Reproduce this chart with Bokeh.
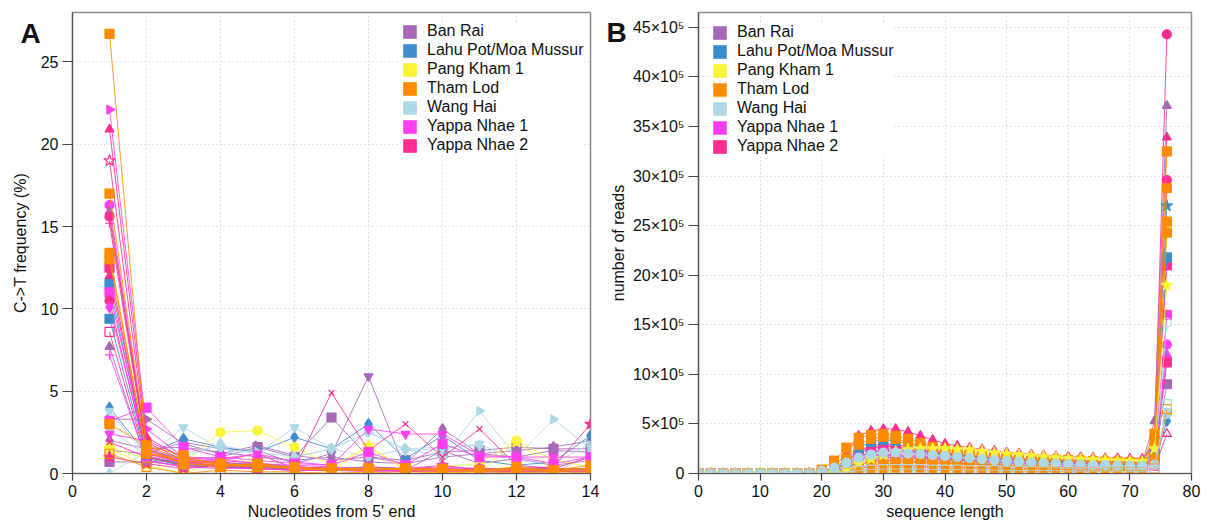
import math

from bokeh.embed import file_html
from bokeh.layouts import row
from bokeh.models import (CustomJSTickFormatter, FixedTicker, Label, Legend,
                          LegendItem, Range1d)
from bokeh.plotting import figure
from bokeh.resources import INLINE

FONT = "Liberation Sans"

# ---------------------------------------------------------------------------
# Populations and their colours
# ---------------------------------------------------------------------------
populations = ["Ban Rai", "Lahu Pot/Moa Mussur", "Pang Kham 1", "Tham Lod",
               "Wang Hai", "Yappa Nhae 1", "Yappa Nhae 2"]
pop_colors = ["#a868b8", "#3e8ccb", "#f9f33a", "#ff8c00",
              "#add8e6", "#ff3ef2", "#ff2d8f"]
COLOR = dict(zip(populations, pop_colors))

# ---------------------------------------------------------------------------
# Panel A: C->T frequency (%) at the first 14 positions from the 5' end
# ---------------------------------------------------------------------------
nt_pos = [1, 2, 3, 4, 5, 6, 7, 8, 9, 10, 11, 12, 13, 14]

ct_yn1_a = [22.1, 2.7, 1.0, 0.8, 0.6, 0.4, 0.3, 0.3, 0.2, 0.3, 0.2, 0.2, 0.2, 0.3]
ct_yn2_a = [20.9, 2.2, 0.9, 0.7, 0.5, 0.4, 0.3, 0.3, 0.2, 0.2, 0.3, 0.2, 0.2, 0.2]
ct_yn2_b = [19.0, 1.9, 0.8, 0.6, 0.5, 0.3, 0.3, 0.2, 0.2, 0.2, 0.2, 0.1, 0.2, 0.2]
ct_yn1_b = [16.3, 1.6, 0.7, 0.9, 0.6, 0.5, 0.4, 0.3, 0.3, 0.4, 0.3, 0.3, 0.2, 0.3]
ct_br_a = [15.9, 1.4, 0.9, 0.6, 0.6, 0.4, 0.3, 0.4, 0.3, 0.3, 0.2, 0.3, 0.3, 0.3]
ct_yn2_c = [15.6, 1.5, 0.6, 0.5, 0.4, 0.3, 0.2, 0.3, 0.2, 0.3, 0.2, 0.2, 0.2, 0.2]
ct_yn2_d = [15.2, 1.3, 0.7, 0.5, 0.4, 0.4, 0.3, 0.2, 0.2, 0.2, 0.3, 0.2, 0.2, 0.2]
ct_yn2_e = [12.5, 1.1, 0.5, 0.5, 0.3, 0.3, 0.2, 0.3, 0.2, 0.2, 0.2, 0.2, 0.2, 0.1]
ct_yn2_f = [12.0, 1.2, 0.7, 0.4, 0.4, 0.3, 0.3, 0.2, 0.3, 0.2, 0.2, 0.2, 0.3, 0.2]
ct_lp_a = [11.5, 1.0, 0.6, 0.5, 0.5, 0.2, 0.3, 0.2, 0.2, 0.2, 0.2, 0.1, 0.2, 0.2]
ct_yn1_c = [11.0, 1.4, 0.8, 0.6, 0.4, 0.4, 0.2, 0.3, 0.2, 0.3, 0.2, 0.2, 0.2, 0.2]
ct_yn2_g = [10.5, 1.0, 0.5, 0.4, 0.3, 0.2, 0.2, 0.2, 0.1, 0.2, 0.2, 0.1, 0.1, 0.2]
ct_yn1_d = [10.1, 1.2, 0.6, 0.5, 0.4, 0.3, 0.3, 0.2, 0.2, 0.3, 0.2, 0.2, 0.2, 0.1]
ct_lp_b = [9.4, 0.9, 0.5, 0.4, 0.4, 0.3, 0.2, 0.2, 0.2, 0.2, 0.1, 0.2, 0.1, 0.2]
ct_yn2_h = [8.6, 0.8, 0.4, 0.4, 0.3, 0.2, 0.2, 0.2, 0.2, 0.1, 0.2, 0.1, 0.2, 0.1]
ct_br_b = [7.7, 0.7, 0.5, 0.4, 0.3, 0.3, 0.2, 0.2, 0.2, 0.2, 0.2, 0.2, 0.1, 0.2]
ct_yn1_e = [7.2, 0.8, 0.4, 0.3, 0.3, 0.2, 0.2, 0.1, 0.2, 0.2, 0.1, 0.1, 0.2, 0.1]
ct_lp_c = [4.0, 1.2, 2.1, 1.6, 1.3, 2.2, 1.5, 3.0, 0.9, 2.3, 0.8, 0.5, 0.7, 2.3]
ct_wh_a = [3.8, 1.0, 2.8, 1.5, 1.2, 2.8, 1.5, 2.5, 1.4, 1.5, 1.8, 0.8, 0.6, 1.8]
ct_br_c = [3.3, 3.3, 1.8, 1.2, 1.7, 1.1, 0.8, 1.0, 0.6, 1.0, 1.2, 1.0, 1.4, 1.3]
ct_br_d = [0.7, 0.7, 0.9, 1.0, 1.6, 1.0, 3.4, 1.0, 0.8, 1.3, 1.4, 1.6, 1.5, 1.5]
ct_yn1_f = [3.2, 4.0, 1.6, 1.0, 0.8, 0.6, 0.5, 1.3, 0.5, 1.8, 1.0, 1.0, 0.6, 1.0]
ct_wh_b = [2.7, 1.1, 1.2, 1.7, 1.3, 1.0, 1.5, 2.5, 1.5, 1.0, 3.8, 1.0, 3.3, 1.5]
ct_br_e = [2.0, 1.5, 1.6, 1.3, 1.0, 0.8, 1.0, 0.7, 0.6, 2.7, 1.2, 1.4, 1.6, 2.0]
ct_pk_a = [1.6, 0.9, 0.6, 2.5, 2.6, 1.6, 0.5, 1.6, 0.3, 0.4, 0.6, 2.0, 0.8, 0.4]
ct_br_f = [1.4, 1.2, 1.9, 1.5, 1.4, 0.6, 1.2, 5.9, 0.2, 1.4, 0.6, 0.9, 0.5, 0.8]
ct_wh_c = [0.0, 1.3, 1.0, 1.8, 0.1, 1.0, 1.5, 1.0, 1.5, 1.6, 1.7, 0.5, 0.0, 1.2]
ct_yn2_i = [1.9, 1.0, 0.6, 0.8, 1.2, 0.3, 4.9, 1.4, 3.0, 1.0, 2.7, 0.5, 0.3, 1.0]
ct_yn1_g = [2.4, 2.0, 1.0, 0.9, 1.2, 0.7, 0.5, 2.7, 2.4, 2.4, 1.1, 1.0, 1.0, 1.0]
ct_pk_b = [1.5, 0.5, 0.0, 0.8, 0.7, 0.3, 0.1, 1.7, 0.2, 0.0, 0.1, 1.9, 0.3, 0.1]
ct_yn2_j = [1.0, 0.6, 0.3, 0.5, 0.4, 0.3, 0.2, 0.4, 0.3, 0.5, 0.2, 0.3, 0.4, 3.0]
ct_tl_a = [1.2, 0.4, 0.0, 0.2, 0.1, 0.1, 0.0, 0.1, 0.0, 0.1, 0.0, 0.1, 0.0, 0.1]
ct_tl_b = [26.7, 1.5, 0.6, 0.5, 0.4, 0.3, 0.2, 0.2, 0.3, 0.2, 0.2, 0.3, 0.2, 0.3]
ct_tl_c = [17.0, 1.7, 0.8, 0.5, 0.5, 0.3, 0.3, 0.3, 0.2, 0.2, 0.2, 0.2, 0.1, 0.2]
ct_tl_d = [13.4, 1.2, 0.9, 0.6, 0.5, 0.4, 0.3, 0.3, 0.3, 0.3, 0.2, 0.3, 0.2, 0.3]
ct_tl_e = [13.0, 1.3, 0.6, 0.4, 0.6, 0.3, 0.2, 0.2, 0.3, 0.2, 0.1, 0.2, 0.2, 0.2]
ct_tl_f = [3.0, 1.7, 1.1, 0.5, 0.6, 0.3, 0.2, 0.3, 0.3, 0.2, 0.2, 0.4, 0.2, 0.5]

# library -> (population, marker, filled, values); drawn in this order
ct_libraries = [
    ("Ban Rai", "inverted_triangle", True, ct_br_f),
    ("Ban Rai", "square", True, ct_br_d),
    ("Ban Rai", "diamond", True, ct_br_e),
    ("Ban Rai", "rtriangle", True, ct_br_c),
    ("Lahu Pot/Moa Mussur", "diamond", True, ct_lp_c),
    ("Wang Hai", "inverted_triangle", True, ct_wh_a),
    ("Wang Hai", "rtriangle", True, ct_wh_b),
    ("Wang Hai", "diamond", True, ct_wh_c),
    ("Pang Kham 1", "circle", True, ct_pk_a),
    ("Pang Kham 1", "star", True, ct_pk_b),
    ("Yappa Nhae 2", "x", False, ct_yn2_i),
    ("Yappa Nhae 1", "inverted_triangle", True, ct_yn1_g),
    ("Yappa Nhae 2", "star", True, ct_yn2_j),
    ("Yappa Nhae 1", "square", True, ct_yn1_f),
    ("Yappa Nhae 1", "rtriangle", True, ct_yn1_a),
    ("Yappa Nhae 2", "triangle", True, ct_yn2_a),
    ("Yappa Nhae 2", "star", False, ct_yn2_b),
    ("Yappa Nhae 1", "circle", True, ct_yn1_b),
    ("Ban Rai", "triangle", True, ct_br_a),
    ("Yappa Nhae 2", "circle", True, ct_yn2_c),
    ("Yappa Nhae 2", "cross", False, ct_yn2_d),
    ("Yappa Nhae 2", "square", True, ct_yn2_e),
    ("Yappa Nhae 2", "triangle", True, ct_yn2_f),
    ("Lahu Pot/Moa Mussur", "square", True, ct_lp_a),
    ("Yappa Nhae 1", "square", True, ct_yn1_c),
    ("Yappa Nhae 2", "circle", True, ct_yn2_g),
    ("Yappa Nhae 1", "diamond", True, ct_yn1_d),
    ("Lahu Pot/Moa Mussur", "square", True, ct_lp_b),
    ("Yappa Nhae 2", "square", False, ct_yn2_h),
    ("Ban Rai", "triangle", True, ct_br_b),
    ("Yappa Nhae 1", "cross", False, ct_yn1_e),
    ("Tham Lod", "square", False, ct_tl_a),
    ("Tham Lod", "square", True, ct_tl_b),
    ("Tham Lod", "square", True, ct_tl_c),
    ("Tham Lod", "square", True, ct_tl_d),
    ("Tham Lod", "square", True, ct_tl_e),
    ("Tham Lod", "square", True, ct_tl_f),
]

# ---------------------------------------------------------------------------
# Panel B: number of reads (x10^5) per sequence length
# ---------------------------------------------------------------------------
read_len = [0, 2, 4, 6, 8, 10, 12, 14, 16, 18, 20, 22, 24, 26, 28, 30, 32, 34, 36,
            38, 40, 42, 44, 46, 48, 50, 52, 54, 56, 58, 60, 62, 64, 66, 68, 70,
            72, 74, 76]

rl_yn2_a = [0, 0, 0, 0, 0, 0, 0, 0, 0, 0.05, 0.2, 0.7, 2.0, 3.8, 4.3, 4.5, 4.5, 4.2,
            3.8, 3.4, 3.0, 2.8, 2.6, 2.45, 2.3, 2.15, 2.05, 1.95, 1.85, 1.75, 1.7,
            1.65, 1.6, 1.55, 1.55, 1.5, 1.5, 2.8, 33.9]
rl_tl_a = [0, 0, 0, 0, 0, 0, 0, 0, 0, 0.05, 0.4, 1.3, 2.6, 3.6, 3.9, 4.0, 3.8, 3.5,
           3.1, 2.7, 2.4, 2.2, 2.0, 1.9, 1.8, 1.7, 1.6, 1.5, 1.45, 1.4, 1.35, 1.3,
           1.25, 1.2, 1.2, 1.15, 1.1, 4.0, 32.5]
rl_tl_b = [0, 0, 0, 0, 0, 0, 0, 0, 0, 0, 0.1, 0.5, 1.5, 2.9, 3.5, 3.7, 3.5, 3.2,
           2.8, 2.5, 2.2, 2.0, 1.9, 1.7, 1.6, 1.5, 1.4, 1.35, 1.3, 1.25, 1.2, 1.15,
           1.1, 1.05, 1.0, 1.0, 0.95, 3.2, 28.8]
rl_lp_a = [0, 0, 0, 0, 0, 0, 0, 0, 0, 0, 0.1, 0.4, 1.3, 2.6, 3.2, 3.4, 3.3, 3.0,
           2.7, 2.4, 2.1, 1.9, 1.8, 1.65, 1.55, 1.45, 1.4, 1.3, 1.25, 1.2, 1.15,
           1.1, 1.05, 1.0, 1.0, 0.95, 0.9, 2.3, 21.8]
rl_yn2_b = [0, 0, 0, 0, 0, 0, 0, 0, 0, 0, 0.05, 0.3, 1.1, 2.3, 2.8, 3.0, 2.9, 2.7,
            2.4, 2.2, 2.0, 1.85, 1.75, 1.65, 1.55, 1.45, 1.35, 1.3, 1.25, 1.2,
            1.15, 1.1, 1.05, 1.0, 1.0, 0.95, 0.95, 3.6, 44.3]
rl_br_a = [0, 0, 0, 0, 0, 0, 0, 0, 0, 0, 0.05, 0.3, 1.0, 2.0, 2.5, 2.7, 2.7, 2.5,
           2.3, 2.1, 1.95, 1.85, 1.75, 1.65, 1.55, 1.5, 1.45, 1.4, 1.35, 1.3,
           1.25, 1.2, 1.15, 1.15, 1.1, 1.1, 1.05, 5.3, 37.1]
rl_yn2_c = [0, 0, 0, 0, 0, 0, 0, 0, 0, 0, 0.1, 0.4, 1.2, 2.2, 2.6, 2.8, 2.7, 2.5,
            2.3, 2.1, 1.9, 1.8, 1.7, 1.6, 1.5, 1.4, 1.35, 1.3, 1.25, 1.2, 1.15,
            1.1, 1.05, 1.0, 0.95, 0.95, 0.9, 3.0, 29.6]
rl_lp_b = [0, 0, 0, 0, 0, 0, 0, 0, 0, 0, 0.05, 0.2, 0.8, 1.7, 2.1, 2.3, 2.3, 2.2,
           2.1, 1.9, 1.8, 1.7, 1.6, 1.5, 1.45, 1.4, 1.3, 1.25, 1.2, 1.15, 1.1,
           1.05, 1.0, 1.0, 0.95, 0.9, 0.9, 2.6, 27.0]
rl_pk_a = [0, 0, 0, 0, 0, 0, 0, 0, 0, 0, 0.0, 0.1, 0.4, 1.0, 1.5, 1.9, 2.2, 2.4,
           2.5, 2.5, 2.5, 2.45, 2.4, 2.25, 2.1, 2.0, 1.9, 1.8, 1.7, 1.6, 1.5,
           1.45, 1.4, 1.35, 1.3, 1.25, 1.2, 2.5, 19.0]
rl_yn2_d = [0, 0, 0, 0, 0, 0, 0, 0, 0, 0, 0.05, 0.2, 0.8, 1.7, 2.2, 2.3, 2.3, 2.2,
            2.0, 1.85, 1.7, 1.6, 1.5, 1.4, 1.35, 1.3, 1.25, 1.2, 1.15, 1.1, 1.05,
            1.0, 1.0, 0.95, 0.9, 0.9, 0.85, 2.0, 21.0]
rl_yn1_a = [0, 0, 0, 0, 0, 0, 0, 0, 0, 0, 0.05, 0.2, 0.7, 1.5, 1.9, 2.0, 2.0, 1.9,
            1.8, 1.7, 1.6, 1.5, 1.4, 1.3, 1.25, 1.2, 1.15, 1.1, 1.05, 1.0, 0.95,
            0.95, 0.9, 0.9, 0.85, 0.85, 0.8, 1.8, 16.0]
rl_br_b = [0, 0, 0, 0, 0, 0, 0, 0, 0, 0, 0.05, 0.2, 0.6, 1.3, 1.7, 1.8, 1.8, 1.7,
           1.6, 1.5, 1.45, 1.4, 1.35, 1.3, 1.25, 1.2, 1.15, 1.1, 1.05, 1.0, 1.0,
           0.95, 0.95, 0.9, 0.9, 0.85, 0.85, 1.6, 9.0]
rl_yn1_b = [0, 0, 0, 0, 0, 0, 0, 0, 0, 0, 0.05, 0.2, 0.7, 1.4, 1.8, 1.9, 1.9, 1.8,
            1.7, 1.6, 1.5, 1.4, 1.3, 1.25, 1.2, 1.15, 1.1, 1.05, 1.0, 0.95, 0.9,
            0.9, 0.85, 0.85, 0.8, 0.8, 0.8, 1.5, 13.0]
rl_yn1_c = [0, 0, 0, 0, 0, 0, 0, 0, 0, 0, 0.0, 0.1, 0.5, 1.1, 1.5, 1.6, 1.6, 1.55,
            1.5, 1.4, 1.35, 1.3, 1.25, 1.2, 1.15, 1.1, 1.05, 1.0, 1.0, 0.95, 0.9,
            0.9, 0.85, 0.85, 0.8, 0.8, 0.75, 1.3, 12.0]
rl_lp_c = [0, 0, 0, 0, 0, 0, 0, 0, 0, 0, 0.05, 0.2, 0.6, 1.1, 1.4, 1.5, 1.5, 1.45,
           1.4, 1.35, 1.3, 1.2, 1.15, 1.1, 1.05, 1.0, 0.95, 0.9, 0.9, 0.85, 0.8,
           0.8, 0.75, 0.75, 0.7, 0.7, 0.7, 1.0, 5.3]
rl_yn2_e = [0, 0, 0, 0, 0, 0, 0, 0, 0, 0, 0.0, 0.1, 0.4, 0.9, 1.2, 1.3, 1.3, 1.25,
            1.2, 1.15, 1.1, 1.05, 1.0, 0.95, 0.9, 0.9, 0.85, 0.8, 0.8, 0.75, 0.7,
            0.7, 0.7, 0.65, 0.65, 0.6, 0.6, 1.2, 11.2]
rl_yn2_f = [0, 0, 0, 0, 0, 0, 0, 0, 0, 0.1, 0.0, 0.05, 0.2, 0.5, 0.7, 0.8, 0.8, 0.8,
            0.75, 0.7, 0.7, 0.65, 0.6, 0.6, 0.55, 0.55, 0.5, 0.5, 0.5, 0.45, 0.45,
            0.45, 0.4, 0.4, 0.4, 0.4, 0.35, 0.6, 4.0]
rl_wh_a = [0, 0, 0, 0, 0, 0, 0, 0, 0, 0, 0.0, 0.05, 0.15, 0.3, 0.4, 0.45, 0.45,
           0.45, 0.45, 0.4, 0.4, 0.4, 0.35, 0.35, 0.35, 0.3, 0.3, 0.3, 0.3, 0.3,
           0.25, 0.25, 0.25, 0.25, 0.25, 0.2, 0.2, 0.4, 7.0]
rl_wh_b = [0, 0, 0, 0, 0, 0, 0, 0, 0, 0, 0.05, 0.3, 0.8, 1.2, 1.4, 1.5, 1.5, 1.45,
           1.4, 1.3, 1.25, 1.2, 1.1, 1.05, 1.0, 0.95, 0.9, 0.85, 0.85, 0.8, 0.75,
           0.75, 0.7, 0.7, 0.7, 0.65, 0.65, 1.0, 15.2]
rl_tl_c = [0, 0, 0, 0, 0, 0, 0, 0, 0, 0, 0.0, 0.1, 0.3, 0.6, 0.9, 1.0, 1.1, 1.1,
           1.1, 1.0, 1.0, 0.95, 0.9, 0.85, 0.8, 0.75, 0.7, 0.65, 0.65, 0.6, 0.6,
           0.55, 0.55, 0.5, 0.5, 0.5, 0.45, 1.5, 25.4]
rl_tl_d = [0, 0, 0, 0, 0, 0, 0, 0, 0, 0, 0.0, 0.05, 0.15, 0.3, 0.45, 0.55, 0.6,
           0.6, 0.6, 0.55, 0.55, 0.5, 0.5, 0.45, 0.45, 0.4, 0.4, 0.4, 0.35, 0.35,
           0.35, 0.3, 0.3, 0.3, 0.3, 0.3, 0.25, 1.2, 24.3]
rl_tl_e = [0, 0, 0, 0, 0, 0, 0, 0, 0, 0, 0.0, 0.05, 0.1, 0.2, 0.3, 0.35, 0.35,
           0.35, 0.35, 0.3, 0.3, 0.3, 0.3, 0.25, 0.25, 0.25, 0.25, 0.2, 0.2, 0.2,
           0.2, 0.2, 0.2, 0.2, 0.2, 0.15, 0.15, 0.5, 6.5]
rl_wh_c = [0, 0, 0, 0, 0, 0, 0, 0, 0, 0, 0.3, 0.6, 1.1, 1.6, 1.9, 2.1, 2.1, 2.0,
           1.95, 1.85, 1.75, 1.65, 1.55, 1.45, 1.35, 1.25, 1.2, 1.1, 1.05, 1.0,
           0.95, 0.9, 0.85, 0.85, 0.8, 0.8, 0.8, 0.9, 6.0]

rl_libraries = [
    ("Yappa Nhae 2", "triangle", True, rl_yn2_a),
    ("Yappa Nhae 2", "circle", True, rl_yn2_b),
    ("Ban Rai", "triangle", True, rl_br_a),
    ("Yappa Nhae 2", "circle", True, rl_yn2_c),
    ("Lahu Pot/Moa Mussur", "star", True, rl_lp_b),
    ("Yappa Nhae 2", "square", True, rl_yn2_d),
    ("Yappa Nhae 1", "square", True, rl_yn1_a),
    ("Ban Rai", "square", True, rl_br_b),
    ("Yappa Nhae 1", "circle", True, rl_yn1_b),
    ("Yappa Nhae 1", "triangle", True, rl_yn1_c),
    ("Lahu Pot/Moa Mussur", "diamond", True, rl_lp_c),
    ("Yappa Nhae 2", "square", True, rl_yn2_e),
    ("Yappa Nhae 2", "triangle", False, rl_yn2_f),
    ("Lahu Pot/Moa Mussur", "square", True, rl_lp_a),
    ("Wang Hai", "circle", False, rl_wh_b),
    ("Tham Lod", "square", True, rl_tl_a),
    ("Tham Lod", "square", True, rl_tl_b),
    ("Tham Lod", "square", True, rl_tl_c),
    ("Tham Lod", "square", True, rl_tl_d),
    ("Pang Kham 1", "star", True, rl_pk_a),
    ("Wang Hai", "circle", True, rl_wh_c),
    ("Tham Lod", "square", False, rl_tl_e),
    ("Wang Hai", "square", False, rl_wh_a),
]

MARKER_SIZE = {"square": 9, "circle": 9, "triangle": 9, "rtriangle": 9,
               "inverted_triangle": 9, "diamond": 11, "star": 12, "x": 8,
               "cross": 9}


def draw_library(p, xs, ys, pop, marker, filled):
    color = COLOR[pop]
    p.line(xs, ys, line_color=color, line_width=1, line_alpha=0.85)
    angle = 0.0
    if marker == "rtriangle":
        marker, angle = "triangle", -math.pi / 2
    p.scatter(xs, ys, marker=marker, size=MARKER_SIZE.get(marker, 9),
              angle=angle, line_color=color, line_width=1.2,
              fill_color=color if filled else None)


def style(p, xticks, yticks):
    p.xaxis.ticker = FixedTicker(ticks=xticks)
    p.yaxis.ticker = FixedTicker(ticks=yticks)
    for ax in (p.xaxis[0], p.yaxis[0]):
        ax.major_label_text_font = FONT
        ax.major_label_text_font_size = "16px"
        ax.major_label_text_color = "#111111"
        ax.axis_label_text_font = FONT
        ax.axis_label_text_font_size = "16px"
        ax.axis_label_text_font_style = "normal"
        ax.axis_label_text_color = "#111111"
        ax.minor_tick_line_color = None
        ax.major_tick_in = 0
        ax.major_tick_line_color = "#444444"
        ax.major_tick_line_width = 1.2
        ax.axis_line_color = "#555555"
        ax.axis_line_width = 1.2
    p.xaxis.major_tick_out = 7
    p.xaxis.major_label_standoff = 4
    p.xaxis.axis_label_standoff = 3
    p.yaxis.major_tick_out = 10
    p.yaxis.major_label_standoff = 4
    p.grid.grid_line_color = "#c8c8c8"
    p.grid.grid_line_dash = "1 3"
    p.grid.grid_line_width = 1
    p.outline_line_color = "#8c8c8c"
    p.outline_line_width = 1.5
    p.background_fill_color = "white"
    p.border_fill_color = "white"


def add_legend(p, loc):
    items = []
    for pop in populations:
        r = p.quad(left=[math.nan], right=[math.nan], top=[math.nan],
                   bottom=[math.nan], fill_color=COLOR[pop], line_color=None)
        items.append(LegendItem(label=pop, renderers=[r]))
    leg = Legend(items=items, location=loc, glyph_width=17, glyph_height=17,
                 label_height=17, label_standoff=9, spacing=1, padding=0,
                 margin=0, border_line_color=None, background_fill_color="white",
                 background_fill_alpha=1.0, label_text_font=FONT,
                 label_text_font_size="16px", label_text_color="#111111")
    p.add_layout(leg)


def side_text(p, side, text, x, y, size="16px", bold=False, vertical=False):
    lab = Label(x=x, y=y, x_units="canvas", y_units="canvas", text=text,
                text_font=FONT, text_font_size=size, text_color="#111111",
                text_font_style="bold" if bold else "normal",
                angle=math.pi / 2 if vertical else 0.0,
                text_align="center" if vertical else "left",
                text_baseline="middle" if vertical else "alphabetic")
    p.add_layout(lab, side)


# ---------------------------------------------------------------------------
# Panel A
# ---------------------------------------------------------------------------
pa = figure(width=629, height=524, x_range=Range1d(0, 14), y_range=Range1d(0, 28),
            min_border_left=72, min_border_right=39, min_border_top=12,
            min_border_bottom=51, output_backend="svg", toolbar_location=None,
            x_axis_label="Nucleotides from 5' end")
style(pa, list(range(0, 15, 2)), [0, 5, 10, 15, 20, 25])
for pop, marker, filled, vals in ct_libraries:
    draw_library(pa, nt_pos, vals, pop, marker, filled)
add_legend(pa, (329, 319))
side_text(pa, "left", "A", 20, 33, size="28px", bold=True)
side_text(pa, "left", "C->T frequency (%)", 20, 242.5, vertical=True)
# panel B's letter and y title sit in the gutter between the two panels
side_text(pa, "right", "B", 606, 32, size="28px", bold=True)
side_text(pa, "right", "number of reads", 618, 242.5, vertical=True)

# ---------------------------------------------------------------------------
# Panel B
# ---------------------------------------------------------------------------
pb = figure(width=579, height=524, x_range=Range1d(0, 80), y_range=Range1d(0, 46.5),
            min_border_left=69, min_border_right=17, min_border_top=12,
            min_border_bottom=51, output_backend="svg", toolbar_location=None,
            x_axis_label="sequence length")
style(pb, list(range(0, 81, 10)), list(range(0, 46, 5)))
pb.yaxis.formatter = CustomJSTickFormatter(
    code="return tick == 0 ? '0' : tick + '\u00d710\u2075';")
for pop, marker, filled, vals in rl_libraries:
    draw_library(pb, read_len, vals, pop, marker, filled)
add_legend(pb, (13, 318))

layout = row(pa, pb)
open("out.html", "w").write(file_html(layout, INLINE))
